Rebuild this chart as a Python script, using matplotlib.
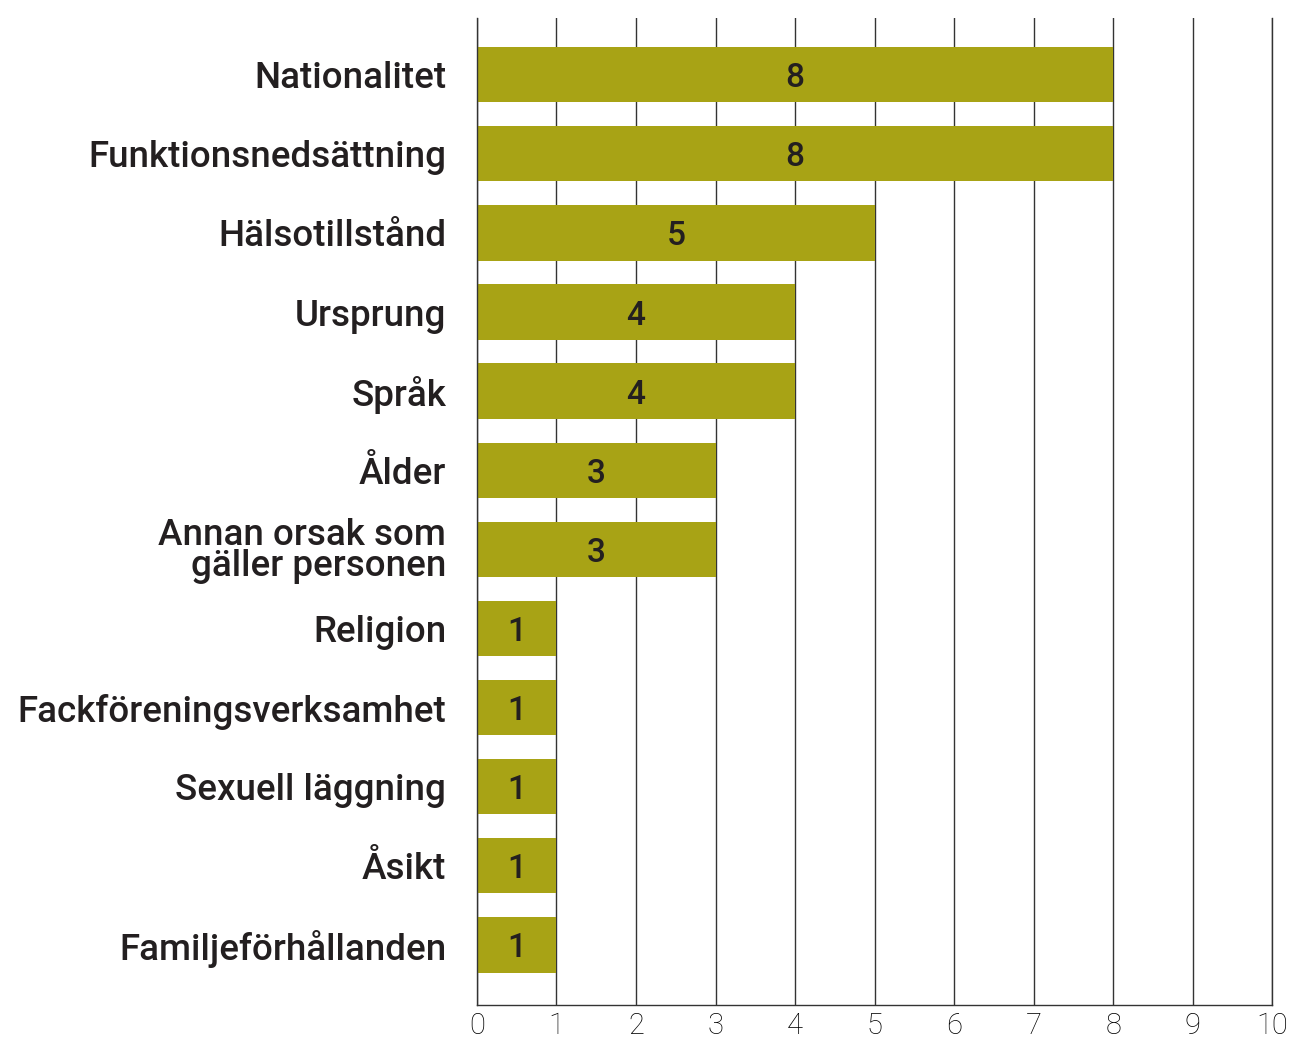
import matplotlib
matplotlib.use('Agg')
import matplotlib.pyplot as plt

# Categories and counts, top to bottom
categories = ['Nationalitet', 'Funktionsnedsättning', 'Hälsotillstånd', 'Ursprung',
              'Språk', 'Ålder', 'Annan orsak som\ngäller personen', 'Religion',
              'Fackföreningsverksamhet', 'Sexuell läggning', 'Åsikt', 'Familjeförhållanden']
counts = [8, 8, 5, 4, 4, 3, 3, 1, 1, 1, 1, 1]
xticks = [0, 1, 2, 3, 4, 5, 6, 7, 8, 9, 10]

bar_color = '#a8a315'
text_color = '#231f20'
line_color = '#333333'

plt.rcParams['font.family'] = ['Roboto', 'DejaVu Sans']

fig = plt.figure(figsize=(12.89, 10.43), dpi=100)
ax = fig.add_axes([0.370, 0.0364, 0.617, 0.9466])

ypos = list(range(len(categories)))
ax.barh(ypos, counts, height=0.7, color=bar_color, zorder=3)
for y, v in zip(ypos, counts):
    ax.text(v / 2, y, str(v), ha='center', va='center_baseline', fontsize=24,
            fontweight='medium', color=text_color, zorder=4)

ax.set_xlim(0, 10)
ax.set_ylim(len(categories) - 0.24, -0.72)
ax.set_xticks(xticks)
ax.set_xticklabels([str(t) for t in xticks], fontsize=21, fontweight='light',
                   color='#000000')
ax.set_yticks(ypos)
ax.set_yticklabels(categories, fontsize=26.5, fontweight='medium', color=text_color,
                   linespacing=0.85)
ax.tick_params(axis='both', length=0)
ax.tick_params(axis='y', pad=22)
ax.tick_params(axis='x', pad=5)
ax.grid(axis='x', color=line_color, linewidth=1, zorder=0)
ax.grid(axis='y', visible=False)
ax.spines['top'].set_visible(False)
for s in ['left', 'bottom', 'right']:
    ax.spines[s].set_color(line_color)
    ax.spines[s].set_linewidth(1)
ax.spines['left'].set_zorder(5)

fig.savefig('out.png', dpi=100)
